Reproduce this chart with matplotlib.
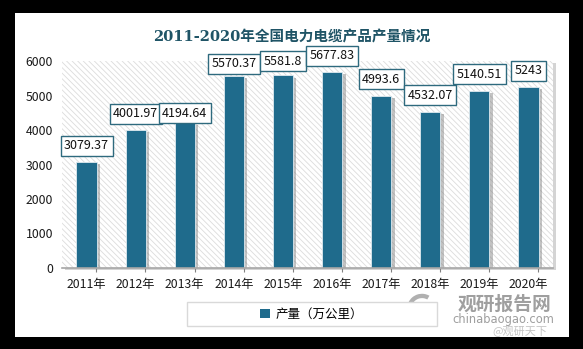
import matplotlib
matplotlib.use('Agg')
import matplotlib.pyplot as plt
import matplotlib.patheffects as pe
from matplotlib.patches import Rectangle, Wedge
import numpy as np

#############################################################
# Data
#############################################################
years = ['2011年', '2012年', '2013年', '2014年', '2015年',
         '2016年', '2017年', '2018年', '2019年', '2020年']
output = [3079.37, 4001.97, 4194.64, 5570.37, 5581.8,
          5677.83, 4993.6, 4532.07, 5140.51, 5243]
value_labels = ['3079.37', '4001.97', '4194.64', '5570.37', '5581.8',
                '5677.83', '4993.6', '4532.07', '5140.51', '5243']
y_ticks = [0, 1000, 2000, 3000, 4000, 5000, 6000]
title = '2011-2020年全国电力电缆产品产量情况'
series_name = '产量（万公里）'

# small vertical nudges (points) for labels that were pushed around in the original
label_nudge = [0, 0, -4.3, -3, -1.5, 0, 0, 0, 0, 0]

plt.rcParams['font.family'] = ['Noto Sans CJK SC', 'DejaVu Sans']
plt.rcParams['axes.unicode_minus'] = False
plt.rcParams['hatch.linewidth'] = 0.6

W, H = 583.0, 349.0
bar_color = '#1F6B8C'

fig = plt.figure(figsize=(W/100, H/100), dpi=100, facecolor='black')

# white card
fig.patches.append(Rectangle((15/W, 1-337/H), (569-15)/W, (337-13)/H,
                             transform=fig.transFigure, fc='white', ec='none', zorder=-2))

# plot area + shadow
px0, px1, py0, py1 = 62, 553, 61, 268
fig.patches.append(Rectangle(((px0+3)/W, 1-(py1+2)/H), (px1-px0)/W, (py1-py0)/H,
                             transform=fig.transFigure, fc='#d4d4d4', ec='none', zorder=-1))
ax = fig.add_axes([px0/W, 1-py1/H, (px1-px0)/W, (py1-py0)/H])
ax.set_facecolor('none')
ax.add_patch(Rectangle((0, 0), 1, 1, transform=ax.transAxes, fc='white',
                       ec='#dcdcdc', lw=0, hatch='\\' * 6, zorder=0))

x = np.arange(len(years))
bars = ax.bar(x, output, width=0.41, color=bar_color, edgecolor='#dfeaf0',
              linewidth=0.6, zorder=3)
for b in bars:
    b.set_path_effects([pe.SimplePatchShadow(offset=(2.5, -1.5), shadow_rgbFace='#7a7a7a', alpha=0.45),
                        pe.Normal()])

for i, (v, s) in enumerate(zip(output, value_labels)):
    ax.annotate(s, xy=(i, v), xytext=(0, 7 + label_nudge[i]), textcoords='offset points',
                ha='center', va='bottom', fontsize=9, color='#111111',
                bbox=dict(boxstyle='square,pad=0.28', fc='white', ec='#2E6A7E', lw=1.0),
                zorder=6, annotation_clip=False)

ax.set_xlim(-0.5, len(years) - 0.5)
ax.set_ylim(0, 6000)
ax.set_yticks(y_ticks)
ax.set_xticks(x, years)
ax.set_xticks(x + 0.2, minor=True)
ax.tick_params(axis='y', length=0, labelsize=8.8, pad=6.5, colors='#1a1a1a')
ax.tick_params(axis='x', which='major', length=0, labelsize=8.8, pad=7, colors='#1a1a1a')
ax.tick_params(axis='x', which='minor', length=3, width=0.8, color='#808080')
for side in ['top', 'right', 'left']:
    ax.spines[side].set_visible(False)
ax.spines['bottom'].set_color('#a6a6a6')
ax.spines['bottom'].set_linewidth(1.2)
ax.spines['bottom'].set_zorder(4)

# title
fig.text(0.5, 1-37/H, title, ha='center', va='center', fontsize=10.5, fontweight='bold',
         color='#1F5466', family=['DejaVu Serif', 'Noto Sans CJK SC'])

# legend
fig.patches.append(Rectangle((187/W, 1-326/H), (437-187)/W, (326-302)/H,
                             transform=fig.transFigure, fc='white', ec='#d9d9d9', lw=1, zorder=1))
leg = fig.legend(handles=[Rectangle((0, 0), 1, 1, fc=bar_color)], labels=[series_name],
                 loc='center', bbox_to_anchor=(312/W, 1-314/H), frameon=False,
                 fontsize=9, handlelength=0.75, handleheight=0.75, handletextpad=0.5)
leg.set_zorder(2)

# watermark
fig.text(505/W, 1-304/H, '观研报告网', ha='center', va='center', fontsize=13.5,
         fontweight='bold', color='#8e8e8e', alpha=0.85)
fig.text(503/W, 1-320/H, 'chinabaogao.com', ha='center', va='center', fontsize=8.3,
         color='#8e8e8e', alpha=0.85, family='DejaVu Sans')
fig.text(492/W, 1-331/H, '@观研天下', ha='left', va='center', fontsize=8,
         color='#c4c4c4')
lax = fig.add_axes([404/W, 1-324/H, 36/W, 31/H])
lax.set_xlim(-1.15, 1.15)
lax.set_ylim(-1, 1)
lax.axis('off')
lax.add_patch(Wedge((0, 0), 0.95, 60, 250, width=0.28, fc='#b0b0b0', ec='none'))
lax.add_patch(Wedge((0, 0), 0.95, 250, 20, width=0.28, fc='#c8c8c8', ec='none'))
lax.add_patch(Wedge((0, 0), 0.5, 200, 40, width=0.2, fc='#b8b8b8', ec='none'))

fig.savefig('out.png', dpi=100, facecolor=fig.get_facecolor())
plt.close(fig)
